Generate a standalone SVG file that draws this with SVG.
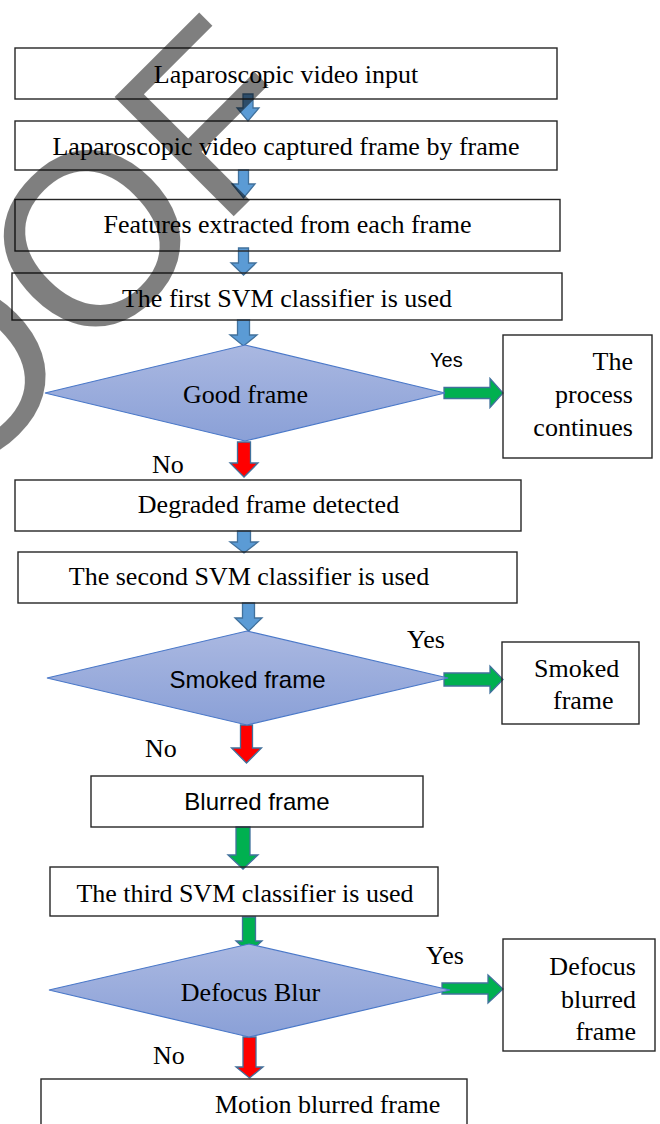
<svg xmlns="http://www.w3.org/2000/svg" width="660" height="1124" viewBox="0 0 660 1124">
<style>
.box{fill:none;stroke:#262626;stroke-width:1.4}
.dia{fill:url(#dg);stroke:#4a78c8;stroke-width:1.2}
.t{font-family:"Liberation Serif","Times New Roman",serif;font-size:26px;fill:#000}
.s{font-family:"Liberation Sans",Arial,sans-serif;font-size:24px;fill:#000}
.ys{font-family:"Liberation Sans",Arial,sans-serif;font-size:20px;fill:#000}
.mid{text-anchor:middle}
.end{text-anchor:end}
.ab{fill:#5b9bd5;stroke:#41719c;stroke-width:1.3}
.ag{fill:#00b050;stroke:#41719c;stroke-width:1.3}
.ar{fill:#ff0000;stroke:#41719c;stroke-width:1.3}
.wm{font-family:"Liberation Sans",Arial,sans-serif;font-size:245px;fill:#000;fill-opacity:0.5}
</style>
<defs>
<linearGradient id="dg" x1="0" y1="0" x2="0" y2="1">
<stop offset="0" stop-color="#aab8e1"/>
<stop offset="1" stop-color="#8aa0d7"/>
</linearGradient>
</defs>
<rect width="660" height="1124" fill="#fff"/>
<g id="connectors">
<path class="ab" d="M243,94 H253 V108 H259 L248,121 L237,108 H243 Z"/>
<path class="ab" d="M238.5,170 H248.5 V184 H255 L243.5,198 L232,184 H238.5 Z"/>
<path class="ab" d="M238.5,248 H248.5 V263 H256 L243.5,275 L231,263 H238.5 Z"/>
<path class="ab" d="M237.5,320 H249.5 V335 H257 L243.5,346 L230,335 H237.5 Z"/>
<path class="ar" d="M237.5,442 H250.5 V463 H258 L244,477 L230,463 H237.5 Z"/>
<path class="ab" d="M237.5,531 H250.5 V542 H258 L244,553 L230,542 H237.5 Z"/>
<path class="ab" d="M242.5,603 H254.5 V618 H262 L248.5,631 L235,618 H242.5 Z"/>
<path class="ar" d="M240.5,725 H252.5 V748 H261.5 L246.5,763 L231.5,748 H240.5 Z"/>
<path class="ag" d="M236,827 H250 V855 H258 L243,869 L228,855 H236 Z"/>
<path class="ag" d="M242.5,917 H255.5 V941 H262 L249,953 L236,941 H242.5 Z"/>
<path class="ar" d="M243,1037 H256 V1067 H263 L249.5,1078 L236,1067 H243 Z"/>
<path class="ag" d="M444,387.5 H490 V378.5 L503,393 L490,407.5 V398.5 H444 Z"/>
<path class="ag" d="M444,673 H490 V666 L503,679.5 L490,693 V686 H444 Z"/>
<path class="ag" d="M442,983 H488 V975 L503,989 L488,1003 V994 H442 Z"/>
</g>
<g id="n1"><rect class="box" x="15" y="48" width="542" height="51"/><text class="t mid" x="286" y="83">Laparoscopic video input</text></g>
<g id="n2"><rect class="box" x="15" y="121" width="542" height="49"/><text class="t mid" x="286" y="155">Laparoscopic video captured frame by frame</text></g>
<g id="n3"><rect class="box" x="15" y="199.5" width="545" height="51.5"/><text class="t mid" x="287.5" y="233">Features extracted from each frame</text></g>
<g id="n4"><rect class="box" x="12" y="273" width="550" height="47"/><text class="t mid" x="287" y="307">The first SVM classifier is used</text></g>
<g id="d1"><polygon class="dia" points="245,345 445,393 245,441 45,393"/><text class="t mid" x="245.5" y="403">Good frame</text></g>
<g id="l1"><text class="ys" x="430" y="367">Yes</text></g>
<g id="n5"><rect class="box" x="503" y="335" width="149" height="123"/><text class="t end" x="633" y="370">The</text><text class="t end" x="633" y="403">process</text><text class="t end" x="633" y="436">continues</text></g>
<g id="l2"><text class="t" x="152" y="473">No</text></g>
<g id="n6"><rect class="box" x="15" y="480" width="506" height="51"/><text class="t mid" x="268.5" y="513">Degraded frame detected</text></g>
<g id="n7"><rect class="box" x="18" y="552" width="499" height="51"/><text class="t mid" x="249" y="585">The second SVM classifier is used</text></g>
<g id="d2"><polygon class="dia" points="247,631 448,678 247,725 47,678"/><text class="s mid" x="247.5" y="688">Smoked frame</text></g>
<g id="l3"><text class="t" x="407" y="648">Yes</text></g>
<g id="n8"><rect class="box" x="502" y="642" width="137" height="82"/><text class="t" x="534" y="677">Smoked</text><text class="t" x="553" y="709">frame</text></g>
<g id="l4"><text class="t" x="145" y="757">No</text></g>
<g id="n9"><rect class="box" x="91" y="776" width="332" height="51"/><text class="s mid" x="257" y="810">Blurred frame</text></g>
<g id="n10"><rect class="box" x="50" y="867" width="388" height="49"/><text class="t mid" x="245" y="902">The third SVM classifier is used</text></g>
<g id="d3"><polygon class="dia" points="249,944 450,990 249,1037 49,990"/><text class="t mid" x="250.5" y="1001">Defocus Blur</text></g>
<g id="l5"><text class="t" x="426" y="964">Yes</text></g>
<g id="n11"><rect class="box" x="503" y="939" width="152" height="112"/><text class="t end" x="636" y="975">Defocus</text><text class="t end" x="636" y="1008">blurred</text><text class="t end" x="636" y="1040">frame</text></g>
<g id="l6"><text class="t" x="153" y="1064">No</text></g>
<g id="n12"><rect class="box" x="41" y="1079" width="426" height="60"/><text class="t" x="215" y="1113">Motion blurred frame</text></g>
<text class="wm" transform="translate(-50,500) rotate(-45)">OOF</text>
</svg>
